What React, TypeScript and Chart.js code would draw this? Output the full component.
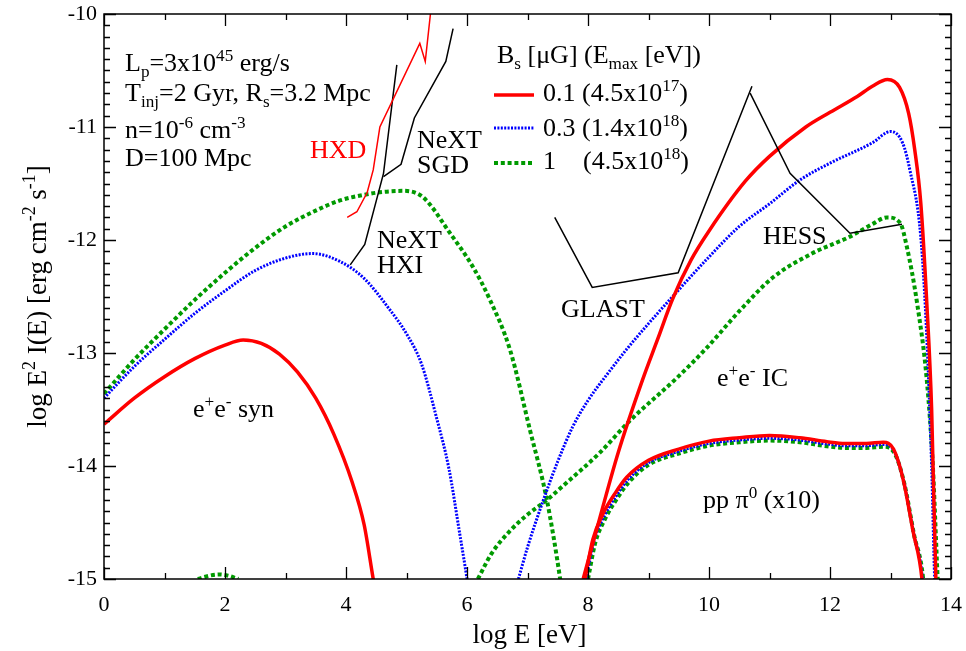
import React, { useEffect, useRef } from "react";
import { Chart, registerables } from "chart.js";
Chart.register(...registerables);

const FONT = '"Liberation Serif", "Times New Roman", Times, serif';

// ---- axis ranges / ticks ----
const X_MIN = 0, X_MAX = 14, X_STEP = 2;
const Y_MIN = -15, Y_MAX = -10, Y_STEP = 1;

// ---- e+e- synchrotron ----
const synX_B01 = [0, 0.5, 1, 1.5, 2, 2.3, 2.6, 2.9, 3.2, 3.5, 3.8, 4.1, 4.3, 4.45, 4.5];
const synY_B01 = [-13.63, -13.40, -13.21, -13.05, -12.93, -12.885, -12.915, -13.01, -13.17, -13.40, -13.72, -14.14, -14.52, -15.0, -15.15];
const synX_B03 = [0, 0.5, 1, 1.5, 2, 2.5, 3, 3.45, 3.9, 4.3, 4.7, 5.0, 5.25, 5.5, 5.7, 5.88, 6.0, 6.03];
const synY_B03 = [-13.40, -13.12, -12.88, -12.65, -12.45, -12.27, -12.16, -12.12, -12.19, -12.34, -12.60, -12.83, -13.10, -13.58, -14.02, -14.6, -15.0, -15.12];
const synX_B1 = [0, 0.5, 1, 1.5, 2, 2.5, 3, 3.5, 3.9, 4.3, 4.6, 4.95, 5.27, 5.72, 6.1, 6.38, 6.71, 7.04, 7.32, 7.54, 7.57];
const synY_B1 = [-13.36, -13.06, -12.79, -12.53, -12.29, -12.07, -11.88, -11.74, -11.65, -11.60, -11.575, -11.565, -11.62, -11.94, -12.24, -12.53, -12.97, -13.68, -14.3, -15.0, -15.12];
const bumpX_B1 = [1.55, 1.75, 1.9, 2.05, 2.22];
const bumpY_B1 = [-15.0, -14.97, -14.96, -14.97, -15.0];

// ---- e+e- inverse Compton ----
const icX_B01 = [7.92, 8.2, 8.5, 8.9, 9.15, 9.4, 9.7, 10.0, 10.6, 11.0, 11.6, 12.0, 12.45, 12.7, 12.95, 13.15, 13.3, 13.4, 13.5, 13.6, 13.68, 13.75, 13.77];
const icY_B01 = [-15.0, -14.45, -13.88, -13.24, -12.88, -12.52, -12.18, -11.92, -11.48, -11.26, -11.0, -10.87, -10.73, -10.64, -10.58, -10.65, -10.88, -11.2, -11.67, -12.56, -13.5, -15.0, -15.2];
const icX_B03 = [6.85, 7.0, 7.25, 7.5, 7.75, 8.0, 8.3, 8.65, 9.0, 9.4, 10.0, 10.5, 11.0, 11.5, 12.0, 12.7, 13.0, 13.2, 13.32, 13.5, 13.6, 13.68, 13.73, 13.75];
const icY_B03 = [-15.0, -14.72, -14.32, -13.96, -13.65, -13.42, -13.2, -12.96, -12.74, -12.5, -12.15, -11.88, -11.68, -11.47, -11.32, -11.14, -11.04, -11.14, -11.38, -11.97, -12.86, -14.0, -15.0, -15.2];
const icX_B1 = [6.18, 6.4, 6.7, 7.0, 7.3, 7.6, 8.2, 8.69, 9.47, 9.97, 10.5, 11.06, 11.7, 12.33, 12.7, 12.94, 13.16, 13.27, 13.44, 13.6, 13.7, 13.78, 13.8];
const icY_B1 = [-15.0, -14.78, -14.58, -14.43, -14.31, -14.17, -13.88, -13.6, -13.22, -12.95, -12.63, -12.33, -12.12, -11.97, -11.86, -11.8, -11.85, -12.06, -12.56, -13.24, -14.0, -15.0, -15.2];

// ---- pp pi0 (x10) ----
const piX_B01 = [7.95, 8.08, 8.25, 8.45, 8.64, 9.0, 9.5, 10.0, 10.5, 11.0, 11.5, 11.95, 12.25, 12.6, 12.88, 13.05, 13.21, 13.37, 13.52, 13.54];
const piY_B01 = [-15.0, -14.65, -14.42, -14.24, -14.1, -13.95, -13.85, -13.78, -13.75, -13.73, -13.75, -13.785, -13.80, -13.80, -13.79, -13.85, -14.12, -14.57, -15.0, -15.15];
const piX_B03 = [7.97, 8.1, 8.27, 8.47, 8.66, 9.0, 9.5, 10.0, 10.5, 11.0, 11.5, 11.95, 12.25, 12.6, 12.88, 13.06, 13.22, 13.38, 13.53, 13.55];
const piY_B03 = [-15.0, -14.66, -14.44, -14.26, -14.12, -13.97, -13.87, -13.80, -13.77, -13.755, -13.77, -13.805, -13.82, -13.82, -13.81, -13.87, -14.14, -14.59, -15.0, -15.15];
const piX_B1 = [8.0, 8.12, 8.29, 8.49, 8.68, 9.0, 9.5, 10.0, 10.5, 11.0, 11.5, 11.95, 12.25, 12.6, 12.88, 13.07, 13.23, 13.39, 13.54, 13.56];
const piY_B1 = [-15.0, -14.68, -14.46, -14.28, -14.14, -13.99, -13.89, -13.82, -13.79, -13.775, -13.79, -13.825, -13.84, -13.84, -13.83, -13.89, -14.16, -14.61, -15.0, -15.15];

// ---- instrument sensitivities ----
const hxdX = [4.02, 4.18, 4.35, 4.45, 4.56, 5.22, 5.31, 5.42];
const hxdY = [-11.8, -11.75, -11.58, -11.38, -11.0, -10.26, -10.42, -9.88];
const hxiX = [4.07, 4.31, 4.62, 4.84];
const hxiY = [-12.22, -12.04, -11.41, -10.45];
const sgdX = [4.62, 4.91, 5.13, 5.65, 5.77];
const sgdY = [-11.44, -11.33, -10.92, -10.42, -10.13];
const glastX = [7.45, 8.07, 9.49, 10.71];
const glastY = [-11.8, -12.42, -12.29, -10.64];
const hessX = [10.68, 11.34, 12.33, 13.19];
const hessY = [-10.7, -11.41, -11.94, -11.86];

const RED = "#ff0000";
const BLUE = "#0000ff";
const GREEN = "#009a00";

const pts = (xs: number[], ys: number[]) => xs.map((x, i) => ({ x, y: ys[i] }));

const styleB01 = { borderColor: RED, borderWidth: 3.5, borderDash: [] as number[] };
const styleB03 = { borderColor: BLUE, borderWidth: 3, borderDash: [2, 1.4] };
const styleB1 = { borderColor: GREEN, borderWidth: 4, borderDash: [4, 2.8] };

function curve(label: string, xs: number[], ys: number[], st: any) {
  return {
    label,
    data: pts(xs, ys),
    showLine: true,
    pointRadius: 0,
    fill: false,
    cubicInterpolationMode: "monotone",
    borderCapStyle: "butt",
    ...st,
  };
}
function instr(label: string, xs: number[], ys: number[], color: string) {
  return {
    label,
    data: pts(xs, ys),
    showLine: true,
    pointRadius: 0,
    fill: false,
    tension: 0,
    borderColor: color,
    borderWidth: 1.5,
  };
}

type Seg = [string, string];
function drawRich(ctx: CanvasRenderingContext2D, x: number, y: number, segs: Seg[], size: number, color: string, measureOnly = false): number {
  let cx = x;
  ctx.fillStyle = color;
  ctx.textBaseline = "alphabetic";
  ctx.textAlign = "left";
  for (const [t, k] of segs) {
    const s = k ? size * 0.66 : size;
    ctx.font = `${s}px ${FONT}`;
    const dy = k === "^" ? -size * 0.4 : k === "_" ? size * 0.24 : 0;
    if (!measureOnly) ctx.fillText(t, cx, y + dy);
    cx += ctx.measureText(t).width;
  }
  return cx - x;
}

const annotations: { x: number; y: number; segs: Seg[]; color?: string }[] = [
  { x: 125, y: 71, segs: [["L", ""], ["p", "_"], ["=3x10", ""], ["45", "^"], [" erg/s", ""]] },
  { x: 125, y: 101, segs: [["T", ""], ["inj", "_"], ["=2 Gyr, R", ""], ["s", "_"], ["=3.2 Mpc", ""]] },
  { x: 125, y: 138, segs: [["n=10", ""], ["-6", "^"], [" cm", ""], ["-3", "^"]] },
  { x: 125, y: 166, segs: [["D=100 Mpc", ""]] },
  { x: 310, y: 158, segs: [["HXD", ""]], color: RED },
  { x: 417, y: 148, segs: [["NeXT", ""]] },
  { x: 417, y: 173, segs: [["SGD", ""]] },
  { x: 377, y: 248, segs: [["NeXT", ""]] },
  { x: 377, y: 273, segs: [["HXI", ""]] },
  { x: 497, y: 63, segs: [["B", ""], ["s", "_"], [" [\u03bcG] (E", ""], ["max", "_"], [" [eV])", ""]] },
  { x: 543, y: 101, segs: [["0.1 (4.5x10", ""], ["17", "^"], [")", ""]] },
  { x: 543, y: 136, segs: [["0.3 (1.4x10", ""], ["18", "^"], [")", ""]] },
  { x: 543, y: 169, segs: [["1", ""]] },
  { x: 583, y: 169, segs: [["(4.5x10", ""], ["18", "^"], [")", ""]] },
  { x: 561, y: 317, segs: [["GLAST", ""]] },
  { x: 763, y: 244, segs: [["HESS", ""]] },
  { x: 717, y: 386, segs: [["e", ""], ["+", "^"], ["e", ""], ["-", "^"], [" IC", ""]] },
  { x: 193, y: 417, segs: [["e", ""], ["+", "^"], ["e", ""], ["-", "^"], [" syn", ""]] },
  { x: 703, y: 508, segs: [["pp \u03c0", ""], ["0", "^"], [" (x10)", ""]] },
];

const legendRows = [
  { y: 95, st: styleB01 },
  { y: 128, st: styleB03 },
  { y: 163, st: styleB1 },
];

const decorPlugin = {
  id: "decor",
  afterDatasetsDraw(chart: any) {
    const { ctx, chartArea, scales } = chart;
    const { left, right, top, bottom } = chartArea;
    const xs = scales.x, ys = scales.y;
    ctx.save();
    ctx.strokeStyle = "#000";
    ctx.lineWidth = 1.5;
    ctx.setLineDash([]);
    ctx.strokeRect(left, top, right - left, bottom - top);
    ctx.lineWidth = 1.3;
    ctx.beginPath();
    for (let v = X_MIN; v <= X_MAX; v += 1) {
      const px = Math.round(xs.getPixelForValue(v)) + 0.5;
      const len = v % X_STEP === 0 ? 12 : 6;
      ctx.moveTo(px, bottom); ctx.lineTo(px, bottom - len);
      ctx.moveTo(px, top); ctx.lineTo(px, top + len);
    }
    for (let i = 0; i <= 50; i++) {
      const v = Y_MIN + i * 0.1;
      const py = Math.round(ys.getPixelForValue(v)) + 0.5;
      const len = i % 10 === 0 ? 12 : 6;
      ctx.moveTo(left, py); ctx.lineTo(left + len, py);
      ctx.moveTo(right, py); ctx.lineTo(right - len, py);
    }
    ctx.stroke();

    // legend lines
    for (const r of legendRows) {
      ctx.beginPath();
      ctx.strokeStyle = r.st.borderColor;
      ctx.lineWidth = r.st.borderWidth;
      ctx.setLineDash(r.st.borderDash);
      ctx.lineCap = "butt";
      ctx.moveTo(494, r.y); ctx.lineTo(534, r.y);
      ctx.stroke();
    }
    ctx.setLineDash([]);

    // annotations
    for (const a of annotations) drawRich(ctx, a.x, a.y, a.segs, 26, a.color || "#000");

    // axis titles
    const xt: Seg[] = [["log E [eV]", ""]];
    const wx = drawRich(ctx, 0, 0, xt, 27, "#000", true);
    drawRich(ctx, (left + right) / 2 - wx / 2 + 2, 643, xt, 27, "#000");
    const yt: Seg[] = [["log E", ""], ["2", "^"], [" I(E) [erg cm", ""], ["-2", "^"], [" s", ""], ["-1", "^"], ["]", ""]];
    const wy = drawRich(ctx, 0, 0, yt, 27, "#000", true);
    ctx.save();
    ctx.translate(46, (top + bottom) / 2);
    ctx.rotate(-Math.PI / 2);
    drawRich(ctx, -wy / 2, 0, yt, 27, "#000");
    ctx.restore();
    ctx.restore();
  },
};

const zeroPad = (s: any) => {
  s.paddingLeft = 0;
  s.paddingRight = 0;
  s.paddingTop = 0;
  s.paddingBottom = 0;
};

export default function App() {
  const ref = useRef<HTMLCanvasElement | null>(null);
  useEffect(() => {
    document.body.style.margin = "0";
    const datasets: any[] = [
      instr("HXD", hxdX, hxdY, RED),
      instr("NeXT HXI", hxiX, hxiY, "#000"),
      instr("NeXT SGD", sgdX, sgdY, "#000"),
      instr("GLAST", glastX, glastY, "#000"),
      instr("HESS", hessX, hessY, "#000"),
      curve("syn 0.1", synX_B01, synY_B01, styleB01),
      curve("IC 0.1", icX_B01, icY_B01, styleB01),
      curve("pi0 0.1", piX_B01, piY_B01, styleB01),
      curve("syn 0.3", synX_B03, synY_B03, styleB03),
      curve("IC 0.3", icX_B03, icY_B03, styleB03),
      curve("pi0 0.3", piX_B03, piY_B03, styleB03),
      curve("syn 1", synX_B1, synY_B1, styleB1),
      curve("syn bump 1", bumpX_B1, bumpY_B1, styleB1),
      curve("IC 1", icX_B1, icY_B1, styleB1),
      curve("pi0 1", piX_B1, piY_B1, styleB1),
    ];
    const chart = new Chart(ref.current as HTMLCanvasElement, {
      type: "scatter",
      data: { datasets },
      options: {
        animation: false,
        responsive: false,
        devicePixelRatio: 1,
        layout: { padding: { top: 14, right: 15, left: 0, bottom: 0 } },
        scales: {
          x: {
            type: "linear",
            min: X_MIN,
            max: X_MAX,
            afterFit: (s: any) => { s.height = 72; zeroPad(s); },
            grid: { display: false, drawTicks: false },
            border: { display: false },
            ticks: { stepSize: X_STEP, padding: 13, color: "#000", font: { family: FONT, size: 22 }, maxRotation: 0, autoSkip: false },
          },
          y: {
            type: "linear",
            min: Y_MIN,
            max: Y_MAX,
            afterFit: (s: any) => { s.width = 104; zeroPad(s); },
            grid: { display: false, drawTicks: false },
            border: { display: false },
            ticks: { stepSize: Y_STEP, padding: 7, color: "#000", font: { family: FONT, size: 22 }, autoSkip: false },
          },
        },
        plugins: { legend: { display: false }, tooltip: { enabled: false } },
      } as any,
      plugins: [decorPlugin],
    });
    return () => chart.destroy();
  }, []);
  return (
    <div style={{ width: 966, height: 651 }}>
      <canvas ref={ref} width={966} height={651} style={{ display: "block" }} />
    </div>
  );
}
